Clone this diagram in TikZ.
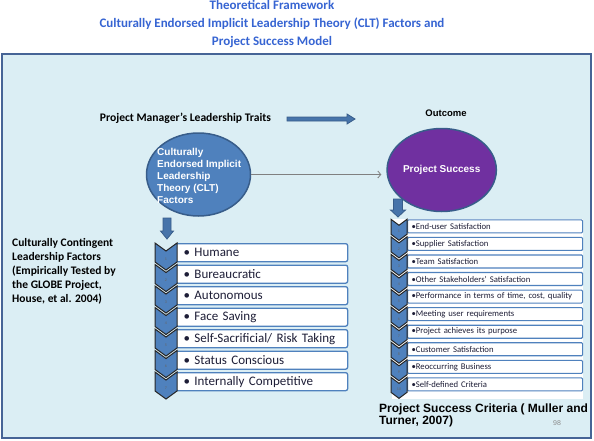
\documentclass[tikz,border=0pt]{standalone}
\usepackage{fontspec}
\setmainfont{Carlito}
\newfontfamily\arialfont{Liberation Sans}
\usetikzlibrary{arrows.meta,shapes.geometric}
\definecolor{titleblue}{RGB}{54,100,210}
\definecolor{panelfill}{RGB}{219,238,244}
\definecolor{paneldraw}{RGB}{70,100,150}
\definecolor{chevblue}{RGB}{79,129,189}
\definecolor{ovaledge}{RGB}{56,93,138}
\definecolor{successviolet}{RGB}{112,48,160}
\definecolor{itemtext}{RGB}{30,30,55}
\tikzset{
  panel/.style={fill=panelfill, draw=paneldraw, line width=2pt},
  title/.style={font=\bfseries\fontsize{13}{18}\selectfont, text=titleblue,
                align=center, inner sep=0pt},
  heading/.style={font=\bfseries\fontsize{11.6}{13}\selectfont, inner sep=0pt},
  note/.style={font=\bfseries\fontsize{11.5}{14}\selectfont, align=left,
               inner sep=0pt},
  oval/.style={ellipse, draw=ovaledge, line width=1.5pt, inner sep=0pt},
  ovaltext/.style={font=\arialfont\bfseries\fontsize{10}{12}\selectfont,
                   text=white, inner sep=0pt},
  blockarrow/.style={fill=chevblue!90!black, draw=ovaledge, line width=0.8pt},
  chevron/.style={fill=chevblue, draw=black!85, line width=1pt},
  chevnum/.style={font=\fontsize{4}{4}\selectfont, text=black!60, inner sep=0pt},
  factorbox/.style={draw=chevblue, line width=1.3pt, fill=white,
                    rounded corners=2pt, anchor=north west,
                    minimum width=172pt, minimum height=18pt,
                    text width=156pt, inner xsep=8pt, inner ysep=0pt,
                    align=left, text=itemtext, font=\fontsize{13}{14}\selectfont},
  criterionbox/.style={draw=chevblue, line width=1.1pt, fill=white,
                       rounded corners=1pt, anchor=north west,
                       minimum width=175pt, minimum height=13pt,
                       text width=167pt, inner xsep=4pt, inner ysep=0pt,
                       align=left, text=itemtext, font=\fontsize{8.7}{10}\selectfont},
  link/.style={draw=black!50, line width=0.8pt,
               -{Straight Barb[length=3pt,width=7pt]}},
}

\begin{document}
\begin{tikzpicture}[x=1pt,y=-1pt]
  \path[use as bounding box] (0,0) rectangle (594,440);

  \node[title] (title) at (272,24)
    {Theoretical Framework\\
     Culturally Endorsed Implicit Leadership Theory (CLT) Factors and\\
     Project Success Model};

  \draw[panel] (2,54) rectangle (591,438);

  % top row
  \node[heading] (traits) at (185.5,118) {Project Manager’s Leadership Traits};
  \draw[blockarrow] (287,117) -- (347,117) -- (347,114) -- (355,119)
    -- (347,124) -- (347,121) -- (287,121) -- cycle;
  \node[font=\arialfont\bfseries\fontsize{9.5}{11}\selectfont, inner sep=0pt]
    (outcome) at (446,113) {Outcome};

  \node[oval, fill=chevblue, minimum width=104pt, minimum height=83pt]
    (clt) at (198.5,174.5) {};
  \node[ovaltext, anchor=west, align=left] (clttext) at (157,176)
    {Culturally\\Endorsed Implicit\\Leadership\\Theory (CLT)\\Factors};
  \node[oval, fill=successviolet, minimum width=105pt, minimum height=83pt,
        ovaltext, inner sep=0pt] (success) at (441.7,170) {Project Success};
  \draw[link, shorten >=5pt] (clt.east) -- (clt.east -| success.west);

  \draw[blockarrow] (163,218) -- (171,218) -- (171,231) -- (173.5,231)
    -- (167,239) -- (160.5,231) -- (163,231) -- cycle;
  \draw[blockarrow] (393.5,199) -- (402.5,199) -- (402.5,210) -- (405.5,210)
    -- (398,217) -- (390.5,210) -- (393.5,210) -- cycle;

  % left list
  \node[note, anchor=west] (contingent) at (12,271.5)
    {Culturally Contingent\\Leadership Factors\\(Empirically Tested by\\
     the GLOBE Project,\\House, et al. 2004)};
  \foreach \i/\txt in {0/{Humane},1/{Bureaucratic},2/{Autonomous},
                       3/{Face Saving},4/{Self-Sacrificial/ Risk Taking},
                       5/{Status Conscious},6/{Internally Competitive}}
    {\node[factorbox] (factor\i) at (175,{243+21.5*\i}) {\textbullet\ \txt};}
  \foreach \i in {0,...,6}
    {\pgfmathsetmacro\t{243+21.5*\i}
     \draw[chevron] (155,\t) -- (166,\t+8) -- (177,\t) -- (177,\t+19)
       -- (166,\t+27) -- (155,\t+19) -- cycle;
     \pgfmathtruncatemacro\n{\i+1}
     \node[chevnum] (fnum\i) at (166,\t+16) {\n};}

  % right list
  \fill[white] (392,219) rectangle (583,399);
  \foreach \i/\txt in {0/{End-user Satisfaction},1/{Supplier Satisfaction},
                       2/{Team Satisfaction},3/{Other Stakeholders’ Satisfaction},
                       4/{Performance in terms of time, cost, quality},
                       5/{Meeting user requirements},
                       6/{Project achieves its purpose},
                       7/{Customer Satisfaction},8/{Reoccurring Business},
                       9/{Self-defined Criteria}}
    {\node[criterionbox] (crit\i) at (407,{219.3+17.56*\i}) {\textbullet\txt};}
  \foreach \i in {0,...,9}
    {\pgfmathsetmacro\t{219.3+17.56*\i}
     \draw[chevron] (391,\t) -- (399,\t+6) -- (407,\t) -- (407,\t+15)
       -- (399,\t+21) -- (391,\t+15) -- cycle;
     \pgfmathtruncatemacro\n{\i+1}
     \node[chevnum] (cnum\i) at (399,\t+12) {\n};}

  \node[font=\arialfont\bfseries\fontsize{12}{10}\selectfont, anchor=west,
        align=left, inner sep=0pt] (criteria) at (379,415.5)
    {Project Success Criteria ( Muller and\\Turner, 2007)};
  \node[font=\arialfont\fontsize{7}{8}\selectfont, text=black!45, inner sep=0pt]
    (page) at (557,423) {98};
\end{tikzpicture}
\end{document}
